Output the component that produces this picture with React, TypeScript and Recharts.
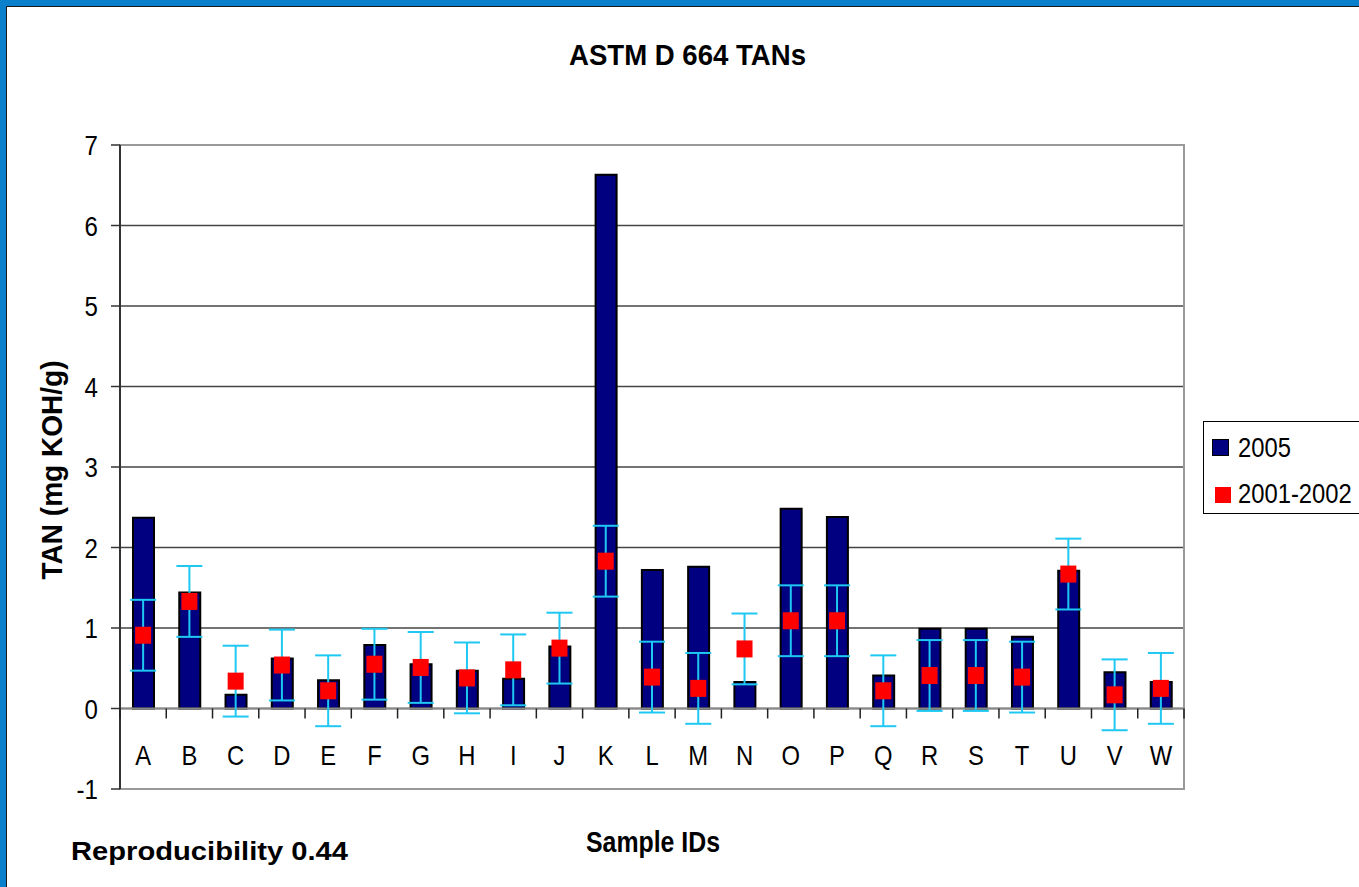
import React from 'react';
import { ComposedChart, Bar, Line, XAxis, YAxis, CartesianGrid, ErrorBar, ReferenceLine, ReferenceArea } from 'recharts';

// values
const categories = ['A', 'B', 'C', 'D', 'E', 'F', 'G', 'H', 'I', 'J', 'K', 'L', 'M', 'N', 'O', 'P', 'Q', 'R', 'S', 'T', 'U', 'V', 'W'];
const tan2005 = [2.37, 1.44, 0.17, 0.62, 0.35, 0.79, 0.55, 0.47, 0.37, 0.77, 6.63, 1.72, 1.76, 0.33, 2.48, 2.38, 0.41, 0.99, 0.99, 0.89, 1.71, 0.45, 0.33];
const tan2001 = [0.91, 1.33, 0.34, 0.54, 0.22, 0.55, 0.51, 0.38, 0.48, 0.75, 1.83, 0.39, 0.25, 0.74, 1.09, 1.09, 0.22, 0.41, 0.41, 0.39, 1.67, 0.17, 0.25];
const reproducibility = 0.44;
const yTicks = [-1, 0, 1, 2, 3, 4, 5, 6, 7];

const data = categories.map((id, i) => ({
  id,
  tan2005: tan2005[i],
  tan2001: tan2001[i],
  err: reproducibility,
}));

const W = 1359;
const H = 887;
const PLOT = { left: 120, right: 1184, top: 145, bottom: 789 };
const FONT = '"Liberation Sans", Arial, Helvetica, sans-serif';
const BLUE = '#0A7FCC';
const CYAN = '#1EC8F2';

const band = (PLOT.right - PLOT.left) / categories.length;
const zeroY = PLOT.bottom - (PLOT.bottom - PLOT.top) / (yTicks.length - 1);

function CategoryTick(props: any) {
  const { x, payload, index } = props;
  const labelY = zeroY + 46;
  return (
    <g>
      <line x1={x - band / 2} y1={zeroY} x2={x - band / 2} y2={zeroY + 10} stroke="#222" strokeWidth={1.5} />
      {index === categories.length - 1 && (
        <line x1={x + band / 2} y1={zeroY} x2={x + band / 2} y2={zeroY + 10} stroke="#222" strokeWidth={1.5} />
      )}
      <g transform={`translate(${x} ${labelY}) scale(0.85 1)`}>
        <text x={0} y={0} dy="0.36em" textAnchor="middle" fontSize={28} fontFamily={FONT} fill="#000">
          {payload.value}
        </text>
      </g>
    </g>
  );
}

function ValueTick(props: any) {
  const { x, y, payload } = props;
  return (
    <g transform={`translate(${x} ${y}) scale(0.86 1)`}>
      <text x={0} y={0} dy="0.36em" textAnchor="end" fontSize={28} fontFamily={FONT} fill="#000">
        {payload.value}
      </text>
    </g>
  );
}

function SquareDot(props: any) {
  const { cx, cy } = props;
  if (cx == null || cy == null) return null;
  return <rect x={cx - 8} y={cy - 8.5} width={16} height={17} fill="#FF0000" />;
}

export default function App() {
  return (
    <div style={{ position: 'absolute', left: 0, top: 0, width: W, height: H, overflow: 'hidden', background: '#fff' }}>
      <div style={{ position: 'absolute', left: 0, top: 0, width: W, height: 6, background: BLUE }} />
      <div style={{ position: 'absolute', left: 0, top: 0, width: 6, height: H, background: BLUE }} />
      <div style={{ position: 'absolute', left: 6, top: 6, width: W, height: 1, background: '#1a1a1a' }} />
      <div style={{ position: 'absolute', left: 6, top: 6, width: 1, height: H, background: '#1a1a1a' }} />

      <div style={{ position: 'absolute', left: 0, top: 0 }}>
        <ComposedChart
          width={W}
          height={H}
          data={data}
          margin={{ top: PLOT.top, right: W - PLOT.right, bottom: H - PLOT.bottom - 30, left: PLOT.left - 60 }}
        >
          <CartesianGrid vertical={false} stroke="#444" strokeWidth={1.5} />
          <ReferenceArea y1={-1} y2={7} fill="none" stroke="#999" strokeWidth={2} />
          <XAxis
            dataKey="id"
            interval={0}
            height={30}
            axisLine={false}
            tickLine={false}
            tickSize={0}
            tickMargin={0}
            tick={<CategoryTick />}
          />
          <YAxis
            width={60}
            domain={[-1, 7]}
            ticks={yTicks}
            interval={0}
            axisLine={{ stroke: '#333', strokeWidth: 2 }}
            tickLine={{ stroke: '#333', strokeWidth: 1.5 }}
            tickSize={9}
            tickMargin={13}
            tick={<ValueTick />}
          />
          <ReferenceLine y={0} stroke="#888" strokeWidth={2} />
          <Bar dataKey="tan2005" fill="#000080" stroke="#000" strokeWidth={2} barSize={21} isAnimationActive={false} />
          <Line
            dataKey="tan2001"
            stroke="none"
            dot={<SquareDot />}
            activeDot={false}
            isAnimationActive={false}
          >
            <ErrorBar dataKey="err" width={13} stroke={CYAN} strokeWidth={2} direction="y" isAnimationActive={false} />
          </Line>
        </ComposedChart>
      </div>

      <svg width={W} height={H} style={{ position: 'absolute', left: 0, top: 0, pointerEvents: 'none' }}>
        <text x={569} y={65} fontSize={30} fontWeight="bold" fontFamily={FONT} textLength={237} lengthAdjust="spacingAndGlyphs">
          ASTM D 664 TANs
        </text>
        <text
          transform="translate(62 470) rotate(-90)"
          textAnchor="middle"
          fontSize={30}
          fontWeight="bold"
          fontFamily={FONT}
          textLength={219}
          lengthAdjust="spacingAndGlyphs"
        >
          TAN (mg KOH/g)
        </text>
        <text x={586} y={852} fontSize={29} fontWeight="bold" fontFamily={FONT} textLength={134} lengthAdjust="spacingAndGlyphs">
          Sample IDs
        </text>
        <text x={71} y={860} fontSize={26.5} fontWeight="bold" fontFamily={FONT} textLength={277} lengthAdjust="spacingAndGlyphs">
          Reproducibility 0.44
        </text>
      </svg>

      <div
        style={{
          position: 'absolute',
          left: 1203,
          top: 421,
          width: 180,
          height: 91,
          border: '1px solid #000',
          background: '#fff',
          fontFamily: FONT,
          fontSize: 28,
        }}
      >
        <div style={{ position: 'absolute', left: 8, top: 17, width: 15, height: 15, background: '#000080', border: '1px solid #000' }} />
        <div style={{ position: 'absolute', left: 34, top: 6, lineHeight: '40px', transform: 'scaleX(0.85)', transformOrigin: 'left center' }}>2005</div>
        <div style={{ position: 'absolute', left: 11, top: 65, width: 16, height: 16, background: '#FF0000' }} />
        <div style={{ position: 'absolute', left: 34, top: 52, lineHeight: '40px', transform: 'scaleX(0.85)', transformOrigin: 'left center' }}>2001-2002</div>
      </div>
    </div>
  );
}
